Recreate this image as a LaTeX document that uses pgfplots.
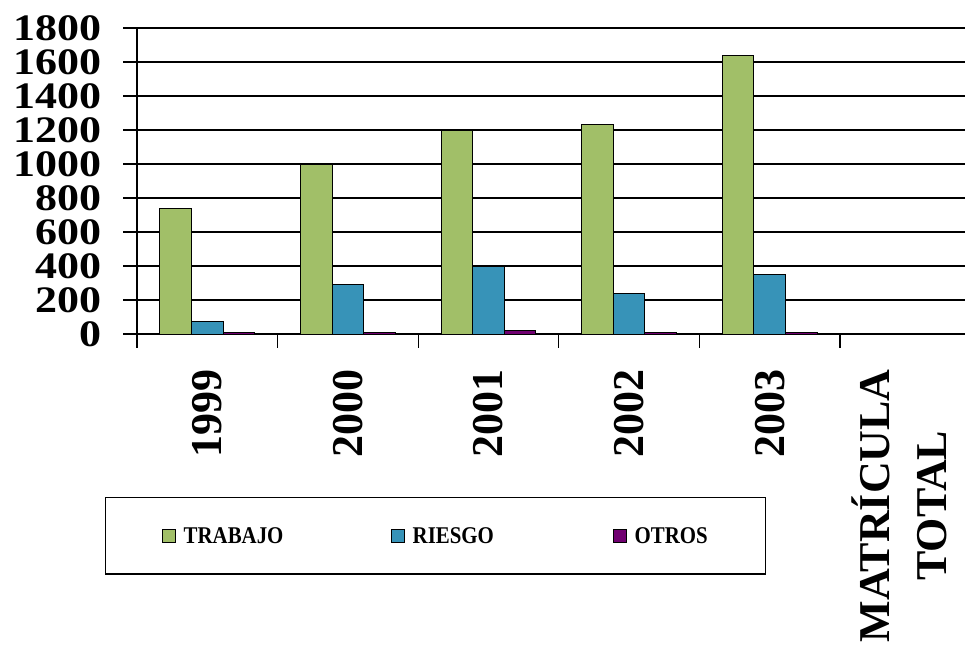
\documentclass[border=0pt]{standalone}
\usepackage{graphicx}
\usepackage{pgfplots}
\pgfplotsset{compat=1.18}
\usepackage{fontspec}
\setmainfont{Liberation Serif}
\definecolor{trab}{RGB}{161,191,104}
\definecolor{ries}{RGB}{55,147,184}
\definecolor{otro}{RGB}{112,0,112}
\begin{document}
\begin{tikzpicture}
\useasboundingbox (0,0) rectangle (965pt,649pt);
\begin{axis}[
  at={(137pt,315pt)}, anchor=south west,
  scale only axis, width=828pt, height=306pt,
  xmin=-0.5, xmax=5.389, ymin=0, ymax=1800,
  axis lines*=left, axis line style={line width=1.3pt, -},
  ymajorgrids, grid style={black, line width=1.3pt},
  ytick={0,200,...,1800},
  xtick={-0.5,0.5,...,5.5}, xticklabels={},
  tick align=outside, major tick length=13.5pt,
  tick style={black, line width=1.3pt},
  extra x ticks={0,1,2,3,4,4.92},
  extra x tick labels={1999,2000,2001,2002,2003,{MATRÍCULA\\TOTAL}},
  extra x tick style={major tick length=0pt, tick style={draw=none},
    xticklabel style={yshift=-35pt, rotate=90, anchor=east, inner sep=0pt, align=center,
      font=\fontsize{44}{57}\bfseries\selectfont}},
  /pgf/number format/assume math mode=true,
  /pgf/number format/1000 sep={},
  yticklabel style={font=\fontsize{44}{44}\bfseries\selectfont, yscale=0.85, anchor=east, inner sep=0pt, xshift=-22pt},
  legend columns=3,
  legend style={at={(axis description cs:-0.0386,-0.5327)}, anchor=north west,
    draw=black, line width=1.3pt, inner xsep=56pt, inner ysep=29.5pt,
    font=\fontsize{24}{24}\bfseries\selectfont, cells={anchor=west},
    nodes={inner xsep=8pt, inner ysep=0pt},
    /tikz/every even column/.append style={column sep=0pt}},
  legend image code/.code={\draw[#1, line width=1pt, draw=black] (0pt,-6.5pt) rectangle (13pt,6.5pt);},
]
\addplot[ybar, bar width=0.225, bar shift=-0.225, fill=trab, draw=black, line width=1pt]
  coordinates {(0,740) (1,1000) (2,1200) (3,1230) (4,1640)};
\addplot[ybar, bar width=0.225, bar shift=0, fill=ries, draw=black, line width=1pt]
  coordinates {(0,75) (1,293) (2,396) (3,236) (4,350)};
\addplot[ybar, bar width=0.225, bar shift=0.225, fill=otro, draw=black, line width=1pt]
  coordinates {(0,8) (1,6) (2,18) (3,6) (4,6)};
\legend{\makebox[199pt][l]{\scalebox{0.87}[1]{TRABAJO}},
        \makebox[192pt][l]{\scalebox{0.87}[1]{RIESGO}},
        \makebox[67pt][l]{\scalebox{0.87}[1]{OTROS}}}
\end{axis}
\end{tikzpicture}
\end{document}
